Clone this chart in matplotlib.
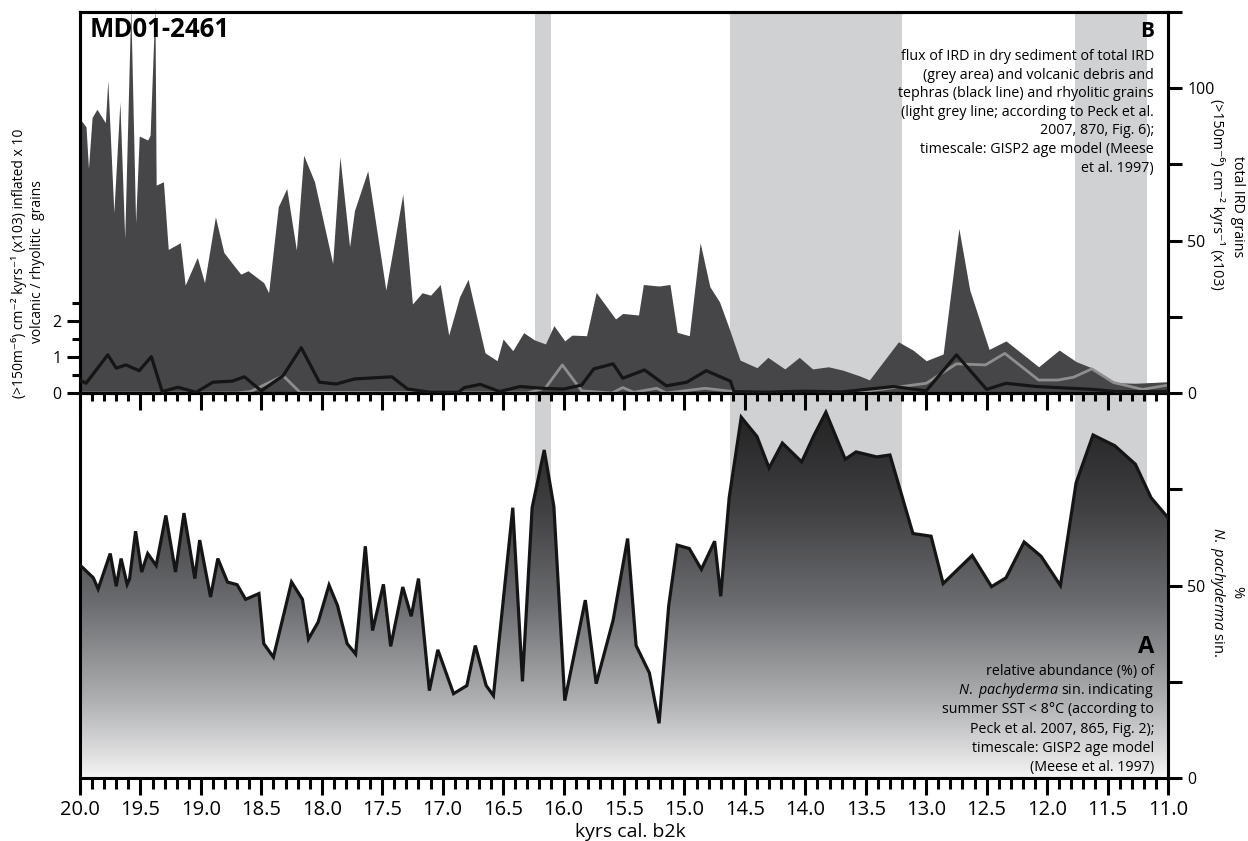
import numpy as np
import matplotlib
matplotlib.use("Agg")
import matplotlib.pyplot as plt
from matplotlib.colors import LinearSegmentedColormap
from matplotlib.ticker import FixedLocator, MultipleLocator, FormatStrFormatter

plt.rcParams['font.family'] = ['Open Sans', 'DejaVu Sans']
plt.rcParams['mathtext.fontset'] = 'custom'
plt.rcParams['mathtext.rm'] = 'Open Sans'
plt.rcParams['mathtext.it'] = 'Open Sans:italic'
plt.rcParams['mathtext.bf'] = 'Open Sans:bold'

# --- panel B: total IRD flux (right axis, x10^3)
ird_age = [20.00, 19.95, 19.93, 19.90, 19.86, 19.79, 19.77, 19.72, 19.67, 19.63,
           19.58, 19.54, 19.51, 19.44, 19.42, 19.38, 19.37, 19.31, 19.27, 19.17,
           19.13, 19.03, 18.97, 18.88, 18.81, 18.74, 18.67, 18.61, 18.48, 18.44,
           18.36, 18.29, 18.21, 18.15, 18.06, 17.91, 17.85, 17.77, 17.73, 17.62,
           17.47, 17.33, 17.25, 17.17, 17.10, 17.02, 16.95, 16.86, 16.79, 16.65,
           16.55, 16.50, 16.42, 16.33, 16.24, 16.15, 16.08, 15.99, 15.93, 15.81,
           15.73, 15.57, 15.51, 15.38, 15.34, 15.21, 15.12, 15.06, 14.96, 14.87,
           14.79, 14.71, 14.64, 14.54, 14.40, 14.31, 14.17, 14.05, 13.94, 13.81,
           13.69, 13.55, 13.47, 13.23, 13.11, 13.00, 12.86, 12.73, 12.64, 12.48,
           12.34, 12.07, 11.90, 11.76, 11.62, 11.45, 11.27, 11.00]
ird_total = [90.0, 87.3, 73.7, 90.4, 93.1, 88.7, 102.6, 59.2, 95.5, 50.7,
             127.0, 55.8, 84.3, 83.0, 84.6, 127.0, 68.2, 69.3, 47.1, 49.3,
             35.4, 44.5, 36.2, 57.8, 46.1, 42.5, 39.0, 40.1, 36.2, 32.9,
             61.1, 67.1, 46.9, 78.0, 69.3, 42.5, 77.5, 48.0, 59.8, 72.9,
             33.8, 65.2, 29.2, 32.9, 32.1, 35.6, 19.0, 31.6, 37.3, 13.2,
             10.6, 17.7, 13.9, 19.8, 17.4, 16.1, 22.1, 17.1, 19.0, 18.8,
             33.0, 24.3, 26.1, 25.6, 35.6, 35.1, 35.6, 19.9, 18.8, 49.3,
             34.9, 29.9, 22.3, 10.8, 8.3, 11.7, 7.9, 11.7, 7.9, 8.6,
             7.5, 5.6, 4.3, 16.8, 14.1, 10.6, 12.8, 54.0, 33.8, 14.3,
             17.1, 8.6, 14.1, 10.3, 8.1, 3.4, 3.2, 3.7]

# volcanic debris / tephras (black line, left axis, inflated x10)
volc_age = [20.00, 19.95, 19.77, 19.70, 19.62, 19.51, 19.41, 19.32, 19.19, 19.04,
            18.90, 18.74, 18.64, 18.50, 18.32, 18.17, 18.02, 17.88, 17.73, 17.42,
            17.29, 17.10, 16.87, 16.82, 16.69, 16.60, 16.53, 16.36, 16.17, 16.00,
            15.85, 15.75, 15.59, 15.51, 15.33, 15.15, 14.98, 14.82, 14.62, 14.59,
            14.30, 14.00, 13.70, 13.27, 13.00, 12.75, 12.50, 12.34, 12.09, 11.62,
            11.43, 11.00]
volc = [0.36, 0.27, 1.06, 0.69, 0.78, 0.62, 1.01, 0.04, 0.16, 0.02,
        0.30, 0.33, 0.45, 0.06, 0.48, 1.26, 0.30, 0.25, 0.39, 0.45,
        0.11, 0.02, 0.02, 0.15, 0.24, 0.13, 0.04, 0.18, 0.13, 0.11,
        0.22, 0.67, 0.81, 0.41, 0.64, 0.20, 0.30, 0.62, 0.33, 0.04,
        0.03, 0.05, 0.03, 0.18, 0.06, 1.06, 0.10, 0.27, 0.18, 0.10,
        0.04, 0.04]

# rhyolitic grains (light grey line, left axis)
rhy_age = [20.00, 18.70, 18.59, 18.32, 18.18, 16.30, 16.15, 16.01, 15.85, 15.60,
           15.51, 15.42, 15.23, 15.15, 14.83, 14.62, 13.60, 13.27, 13.00, 12.75,
           12.51, 12.35, 12.07, 11.91, 11.78, 11.63, 11.45, 11.21, 11.00]
rhy = [0.0, 0.0, 0.04, 0.48, 0.02, 0.0, 0.14, 0.78, 0.06, 0.0,
       0.15, 0.02, 0.13, 0.0, 0.13, 0.05, 0.0, 0.15, 0.27, 0.81,
       0.78, 1.10, 0.36, 0.36, 0.44, 0.67, 0.29, 0.10, 0.22]

# --- panel A: relative abundance of N. pachyderma sin. (%)
np_age = [20.00, 19.89, 19.85, 19.75, 19.70, 19.66, 19.61, 19.59, 19.54, 19.49,
          19.44, 19.37, 19.29, 19.21, 19.14, 19.05, 19.01, 18.92, 18.86, 18.78,
          18.70, 18.63, 18.52, 18.48, 18.40, 18.25, 18.16, 18.11, 18.03, 17.94,
          17.87, 17.79, 17.72, 17.64, 17.58, 17.49, 17.43, 17.33, 17.26, 17.20,
          17.11, 17.04, 16.91, 16.80, 16.73, 16.64, 16.58, 16.42, 16.34, 16.26,
          16.16, 16.08, 15.99, 15.82, 15.73, 15.59, 15.47, 15.40, 15.29, 15.21,
          15.13, 15.06, 14.96, 14.86, 14.75, 14.70, 14.63, 14.53, 14.40, 14.30,
          14.19, 14.03, 13.93, 13.83, 13.67, 13.58, 13.41, 13.30, 13.11, 12.96,
          12.86, 12.62, 12.46, 12.34, 12.19, 12.05, 11.89, 11.76, 11.62, 11.44,
          11.27, 11.14, 11.00]
np_pct = [55.3, 52.0, 49.1, 58.3, 49.8, 57.0, 50.3, 51.7, 64.1, 53.5,
          58.3, 55.2, 68.2, 53.5, 68.8, 51.8, 61.8, 47.0, 57.0, 50.9,
          50.2, 46.4, 47.9, 34.9, 31.4, 50.9, 46.4, 36.1, 40.5, 50.1,
          44.8, 34.9, 32.2, 60.2, 38.3, 50.3, 34.2, 49.6, 42.0, 51.8,
          22.7, 33.3, 21.9, 24.0, 34.4, 24.0, 21.4, 70.2, 25.1, 70.2,
          85.2, 70.5, 20.1, 46.2, 24.5, 41.0, 62.2, 34.4, 27.3, 14.2,
          44.8, 60.5, 59.6, 54.2, 61.5, 47.2, 72.8, 93.7, 88.7, 80.5,
          87.0, 82.1, 88.9, 95.0, 82.8, 84.7, 83.4, 83.9, 63.5, 62.8,
          50.5, 57.8, 49.7, 52.0, 61.3, 57.6, 50.0, 76.7, 89.1, 86.3,
          81.5, 72.8, 67.6]

# cold phases (grey bands)
band_start = [16.24, 14.62, 11.77]
band_end = [16.10, 13.20, 11.17]

W, H = 1248, 841
fig = plt.figure(figsize=(W / 100, H / 100), dpi=100)


def fx(x):
    return x / W


def fy(y):
    return 1 - y / H


L, R = 80, 1168
SW = 2.2
band_col = '#d0d1d3'

ax_b = fig.add_axes([fx(L), fy(778), (R - L) / W, (778 - 393) / H])
ax_t = fig.add_axes([fx(L), fy(393), (R - L) / W, (393 - 12) / H])
ax_v = ax_t.twinx()

for ax in (ax_b, ax_t, ax_v):
    for s in ax.spines.values():
        s.set_linewidth(SW)

for a0, a1 in zip(band_start, band_end):
    ax_t.axvspan(a0, a1, color=band_col, lw=0, zorder=0)
    ax_b.axvspan(a0, a1, color=band_col, lw=0, zorder=0)

# top panel
ax_t.fill_between(ird_age, 0, ird_total, color='#464648', lw=0, zorder=2, clip_on=False)
ax_v.plot(rhy_age, rhy, color='#8e8e8e', lw=2.0, zorder=2)
ax_v.plot(volc_age, volc, color='#151515', lw=2.3, zorder=3)

ax_t.set_xlim(20, 11)
ax_t.set_ylim(0, 125)
ax_v.set_ylim(0, 381 / 36)
ax_t.yaxis.tick_right()
ax_v.yaxis.tick_left()
ax_t.yaxis.set_major_locator(FixedLocator([0, 50, 100]))
ax_t.yaxis.set_minor_locator(FixedLocator([25, 75, 125]))
ax_t.tick_params(axis='y', which='both', length=10, width=SW, labelsize=11.5, pad=4)
ax_v.yaxis.set_major_locator(FixedLocator([0, 1, 2]))
ax_v.yaxis.set_minor_locator(FixedLocator([0.5, 1.5, 2.5]))
ax_v.tick_params(axis='y', which='major', length=9.5, width=SW, labelsize=11.5, pad=4)
ax_v.tick_params(axis='y', which='minor', length=6, width=SW)
ax_t.xaxis.set_major_locator(MultipleLocator(0.5))
ax_t.xaxis.set_minor_locator(MultipleLocator(0.1))
ax_t.tick_params(axis='x', which='major', length=12, width=SW, labelbottom=False)
ax_t.tick_params(axis='x', which='minor', length=6, width=SW)

# bottom panel with grey gradient under the curve
cmap = LinearSegmentedColormap.from_list('npach', [
    (0.0, '#f6f6f6'), (0.05, '#e2e2e3'), (0.2, '#afb0b2'),
    (0.45, '#6c6d70'), (0.7, '#404043'), (1.0, '#1d1d1d')])
poly = ax_b.fill_between(np_age, 0, np_pct, facecolor='none', edgecolor='none')
grad = np.linspace(0, 1, 256).reshape(-1, 1)
im = ax_b.imshow(grad, extent=[20, 11, 0, 100], origin='lower', aspect='auto',
                 cmap=cmap, zorder=1, interpolation='bilinear')
im.set_clip_path(poly.get_paths()[0], transform=ax_b.transData)
ax_b.plot(np_age, np_pct, color='#151515', lw=2.3, zorder=3, solid_joinstyle='miter')

ax_b.set_xlim(20, 11)
ax_b.set_ylim(0, 100)
ax_b.yaxis.tick_right()
ax_b.yaxis.set_major_locator(FixedLocator([0, 50]))
ax_b.yaxis.set_minor_locator(FixedLocator([25, 75]))
ax_b.tick_params(axis='y', which='both', length=10, width=SW, labelsize=11.5, pad=4)
ax_b.xaxis.set_major_locator(MultipleLocator(0.5))
ax_b.xaxis.set_minor_locator(MultipleLocator(0.1))
ax_b.xaxis.set_major_formatter(FormatStrFormatter('%.1f'))
ax_b.tick_params(axis='x', which='major', length=12.5, width=SW, labelsize=14.5, pad=3)
ax_b.tick_params(axis='x', which='minor', length=8, width=SW)

# texts
fig.text(fx(90), fy(37), 'MD01-2461', fontsize=18.5, fontweight='bold', ha='left', va='baseline')
fig.text(fx(1154), fy(37), 'B', fontsize=15, fontweight='bold', ha='right', va='baseline')
b_lines = ['flux of IRD in dry sediment of total IRD',
           '(grey area) and volcanic debris and',
           'tephras (black line) and rhyolitic grains',
           '(light grey line; according to Peck et al.',
           '2007, 870, Fig. 6);',
           'timescale: GISP2 age model (Meese',
           'et al. 1997)']
for i, t in enumerate(b_lines):
    fig.text(fx(1154), fy(60 + i * 18.6), t, fontsize=10.3, ha='right', va='baseline')

fig.text(fx(1154), fy(653), 'A', fontsize=17, fontweight='bold', ha='right', va='baseline')
a_lines = ['relative abundance (%) of',
           r'$\it{N.\ pachyderma}$ sin. indicating',
           'summer SST < 8°C (according to',
           'Peck et al. 2007, 865, Fig. 2);',
           'timescale: GISP2 age model',
           '(Meese et al. 1997)']
for i, t in enumerate(a_lines):
    fig.text(fx(1154), fy(675 + i * 19.2), t, fontsize=10.3, ha='right', va='baseline')

fig.text(fx(38), fy(262), 'volcanic / rhyolitic  grains', fontsize=10,
         rotation=90, ha='center', va='center')
fig.text(fx(19), fy(263), '(>150m⁻⁶) cm⁻² kyrs⁻¹ (x103) inflated x 10', fontsize=10,
         rotation=90, ha='center', va='center')
fig.text(fx(1238), fy(207), 'total IRD grains', fontsize=10.3,
         rotation=-90, ha='center', va='center')
fig.text(fx(1217), fy(194), '(>150m⁻⁶) cm⁻² kyrs⁻¹ (x103)', fontsize=10.3,
         rotation=-90, ha='center', va='center')
fig.text(fx(1237), fy(592), '%', fontsize=10.5, rotation=-90, ha='center', va='center')
fig.text(fx(1217), fy(592), r'$\it{N.\ pachyderma}$ sin.', fontsize=10.5,
         rotation=-90, ha='center', va='center')
fig.text(fx(630), fy(832), 'kyrs cal. b2k', fontsize=14, ha='center', va='center')

fig.savefig('out.png', dpi=100)
